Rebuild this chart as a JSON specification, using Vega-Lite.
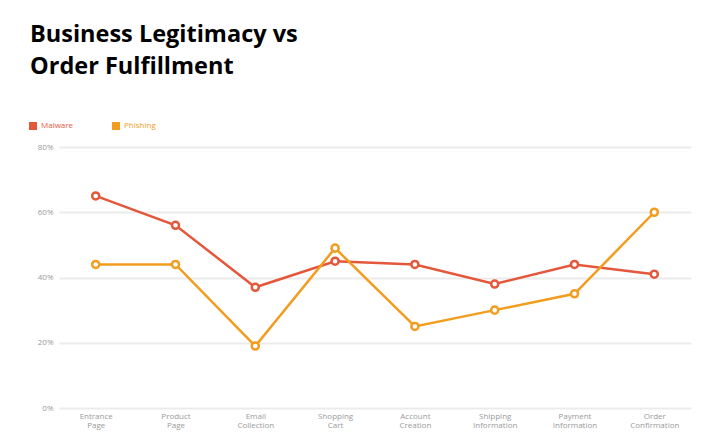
{
  "$schema": "https://vega.github.io/schema/vega-lite/v6.json",
  "width": 632,
  "height": 261,
  "autosize": {"type": "none"},
  "padding": {"left": 59, "top": 147, "right": 25, "bottom": 36},
  "background": "white",
  "config": {
    "font": "Open Sans",
    "view": {"stroke": null},
    "axis": {"labelFont": "Open Sans", "labelColor": "#9a9a9a", "labelFontSize": 8, "domain": false, "ticks": false, "title": null}
  },
  "title": {
    "text": ["Business Legitimacy vs", "Order Fulfillment"],
    "anchor": "start",
    "frame": "group",
    "font": "Open Sans",
    "fontSize": 23.5,
    "fontWeight": "bold",
    "color": "#000000",
    "lineHeight": 32,
    "dx": -29,
    "offset": 44
  },
  "data": {
    "values": [
      {"step": "Entrance Page", "series": "Malware", "value": 65},
      {"step": "Product Page", "series": "Malware", "value": 56},
      {"step": "Email Collection", "series": "Malware", "value": 37},
      {"step": "Shopping Cart", "series": "Malware", "value": 45},
      {"step": "Account Creation", "series": "Malware", "value": 44},
      {"step": "Shipping Information", "series": "Malware", "value": 38},
      {"step": "Payment Information", "series": "Malware", "value": 44},
      {"step": "Order Confirmation", "series": "Malware", "value": 41},
      {"step": "Entrance Page", "series": "Phishing", "value": 44},
      {"step": "Product Page", "series": "Phishing", "value": 44},
      {"step": "Email Collection", "series": "Phishing", "value": 19},
      {"step": "Shopping Cart", "series": "Phishing", "value": 49},
      {"step": "Account Creation", "series": "Phishing", "value": 25},
      {"step": "Shipping Information", "series": "Phishing", "value": 30},
      {"step": "Payment Information", "series": "Phishing", "value": 35},
      {"step": "Order Confirmation", "series": "Phishing", "value": 60}
    ]
  },
  "encoding": {
    "x": {
      "field": "step",
      "type": "ordinal",
      "sort": ["Entrance Page", "Product Page", "Email Collection", "Shopping Cart", "Account Creation", "Shipping Information", "Payment Information", "Order Confirmation"],
      "scale": {"type": "point", "padding": 0.46},
      "axis": {"labelAngle": 0, "labelExpr": "split(datum.label, ' ')", "labelPadding": 4, "labelLineHeight": 9.5, "grid": false}
    },
    "y": {
      "field": "value",
      "type": "quantitative",
      "scale": {"domain": [0, 80]},
      "axis": {"values": [0, 20, 40, 60, 80], "labelExpr": "datum.value + '%'", "labelPadding": 6, "grid": true, "gridColor": "#ebebeb", "gridWidth": 2}
    },
    "color": {
      "field": "series",
      "type": "nominal",
      "scale": {"domain": ["Malware", "Phishing"], "range": ["#E5573B", "#F29D1F"]},
      "legend": {
        "title": null,
        "orient": "none",
        "legendX": -30,
        "legendY": -25,
        "direction": "horizontal",
        "columns": 2,
        "columnPadding": 38,
        "symbolType": "square",
        "symbolSize": 64,
        "symbolStrokeWidth": 0,
        "labelFont": "Open Sans",
        "labelFontSize": 8,
        "labelOffset": 4,
        "encode": {
          "symbols": {"update": {"fill": {"scale": "color", "field": "value"}, "fillOpacity": {"value": 1}}},
          "labels": {"update": {"fill": {"scale": "color", "field": "value"}}}
        }
      }
    }
  },
  "layer": [
    {"mark": {"type": "line", "strokeWidth": 2.5}},
    {"mark": {"type": "point", "filled": true, "fill": "white", "strokeWidth": 2.5, "size": 50, "opacity": 1}, "encoding": {"stroke": {"field": "series", "type": "nominal", "scale": {"domain": ["Malware", "Phishing"], "range": ["#E5573B", "#F29D1F"]}, "legend": null}}}
  ]
}
